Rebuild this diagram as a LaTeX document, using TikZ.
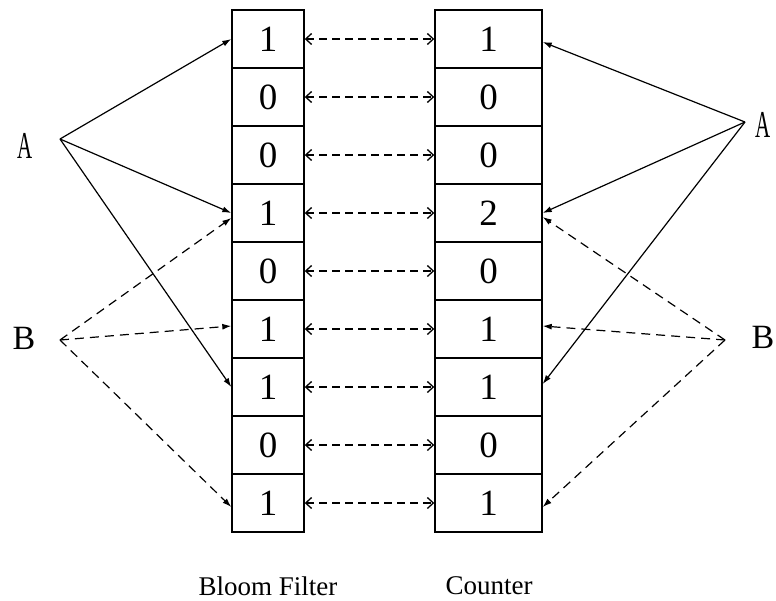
\documentclass[tikz,border=0pt]{standalone}
\usepackage{fontspec}
\usepackage{graphicx}
\setmainfont{Liberation Serif}
\usetikzlibrary{arrows.meta}
\begin{document}
\begin{tikzpicture}[x=1pt,y=-1pt,
  cell/.style={draw,line width=1.4pt,minimum width=72pt,minimum height=58pt,inner sep=0pt,font=\fontsize{37}{37}\selectfont},
  rcell/.style={cell,minimum width=107pt},
  hash/.style={line width=1.2pt,-{Latex[length=9pt,width=6pt]}},
  hashd/.style={hash,dash pattern=on 9pt off 6pt},
  link/.style={line width=1.3pt,dash pattern=on 8pt off 5pt,{Straight Barb[length=6pt,width=11pt]}-{Straight Barb[length=6pt,width=11pt]}},
  lab/.style={font=\fontsize{34}{34}\selectfont,inner sep=0pt},
  alab/.style={font=\fontsize{38}{38}\selectfont,inner sep=0pt},
  captext/.style={font=\fontsize{27}{27}\selectfont,inner sep=0pt}]
\useasboundingbox (0,0) rectangle (776,600);
\foreach \v [count=\i] in {1,0,0,1,0,1,1,0,1}{
  \node[cell] (L\i) at (268,{10+58*(\i-0.5)}) {\v};
}
\foreach \v [count=\i] in {1,0,0,2,0,1,1,0,1}{
  \node[rcell] (R\i) at (488.5,{10+58*(\i-0.5)}) {\v};
}
\foreach \i in {1,...,9}{
  \draw[link] (L\i.east) -- (R\i.west);
}
% labels
\node[alab] (Al) at (25,146) {\scalebox{0.55}[1]{A}};
\node[lab] (Bl) at (24,338) {B};
\node[alab] (Ar) at (763,125) {\scalebox{0.55}[1]{A}};
\node[lab] (Br) at (763,337) {B};
\coordinate (Av) at (60,139);
\coordinate (Bv) at (60,340);
\coordinate (Avr) at (745,122);
\coordinate (Bvr) at (725,340);
% left arrows
\draw[hash] (Av) -- (L1.west);
\draw[hash] (Av) -- (L4.west);
\draw[hash] (Av) -- (L7.west);
\draw[hashd] (Bv) -- ([yshift=-5pt]L4.west);
\draw[hashd] (Bv) -- ([yshift=3pt]L6.west);
\draw[hashd] (Bv) -- ([yshift=-4pt]L9.west);
% right arrows
\draw[hash] (Avr) -- ([yshift=-3pt]R1.east);
\draw[hash] (Avr) -- (R4.east);
\draw[hash] (Avr) -- ([yshift=3pt]R7.east);
\draw[hashd] (Bvr) -- ([yshift=-4pt]R4.east);
\draw[hashd] (Bvr) -- ([yshift=3pt]R6.east);
\draw[hashd] (Bvr) -- ([yshift=-4pt]R9.east);
% captions
\node[captext] (bf) at (268,586) {Bloom Filter};
\node[captext] (ct) at (489,586) {Counter};
\end{tikzpicture}
\end{document}
